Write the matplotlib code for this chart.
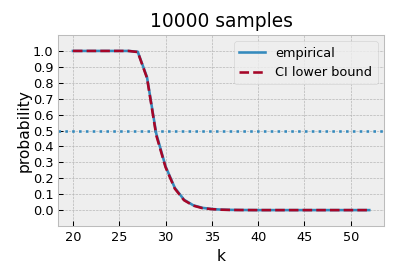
import matplotlib
matplotlib.use("Agg")
import matplotlib.pyplot as plt
import numpy as np

plt.style.use("bmh")

k = list(range(20, 53))
empirical = [1.0]*7 + [0.995, 0.835, 0.48, 0.275, 0.14, 0.065, 0.03, 0.014, 0.007, 0.003, 0.0015, 0.0007, 0.0003] + [0.0]*13
ci_lower = [1.0]*7 + [0.993, 0.83, 0.47, 0.27, 0.135, 0.062, 0.028, 0.012, 0.006, 0.0025, 0.001, 0.0005, 0.0002] + [0.0]*13
threshold = 0.5

DPI = 93
fig = plt.figure(figsize=(398 / DPI, 278 / DPI), dpi=DPI)
ax = fig.add_axes([0.146, 0.187, 0.819, 0.687])
ax.plot(k, empirical, color="#348ABD", label="empirical")
ax.plot(k, ci_lower, color="#A60628", linestyle="--", label="CI lower bound")
ax.axhline(threshold, color="#348ABD", linestyle=":")
ax.set_ylim(-0.1, 1.1)
ax.set_yticks(np.arange(0, 1.01, 0.1))
ax.set_xticks([20, 25, 30, 35, 40, 45, 50])
ax.set_xlabel("k")
ax.set_ylabel("probability", labelpad=1.3)
ax.set_title("10000 samples")
ax.legend(loc="upper right")
fig.savefig("out.png", dpi=DPI)
